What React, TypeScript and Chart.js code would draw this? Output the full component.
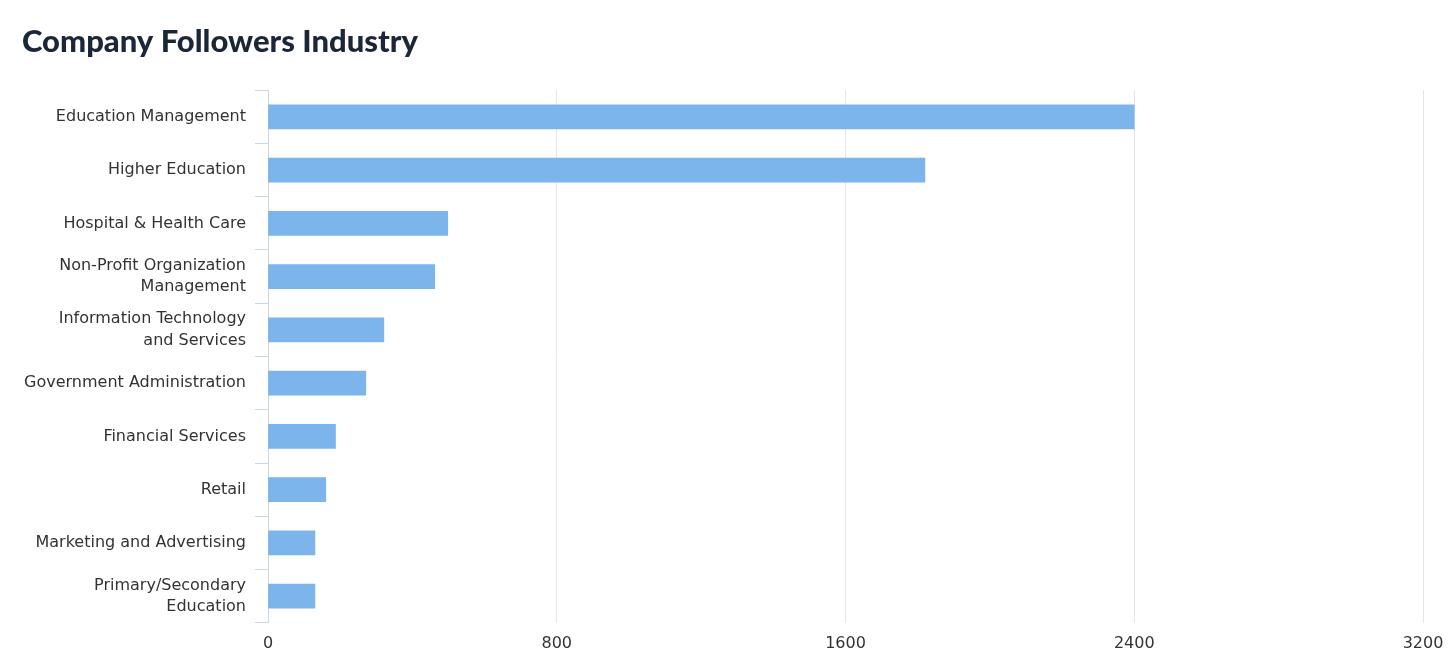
import React, { useEffect, useRef } from "react";
import { Chart, registerables } from "chart.js";

Chart.register(...registerables);

const industries: (string | string[])[] = [
  "Education Management",
  "Higher Education",
  "Hospital & Health Care",
  ["Non-Profit Organization", "Management"],
  ["Information Technology", "and Services"],
  "Government Administration",
  "Financial Services",
  "Retail",
  "Marketing and Advertising",
  ["Primary/Secondary", "Education"],
];

const followers: number[] = [2400, 1820, 498, 462, 321, 271, 187, 160, 130, 130];

const xTicks: number[] = [0, 800, 1600, 2400, 3200];

const TITLE = "Company Followers Industry";

export default function App() {
  const ref = useRef<HTMLCanvasElement | null>(null);

  useEffect(() => {
    document.body.style.margin = "0";
    const canvas = ref.current;
    if (!canvas) return;
    const chart = new Chart(canvas, {
      type: "bar",
      data: {
        labels: industries,
        datasets: [
          {
            label: "Followers",
            data: followers,
            backgroundColor: "#7cb5ec",
            borderWidth: 0,
            barThickness: 24,
          },
        ],
      },
      options: {
        indexAxis: "y",
        animation: false,
        responsive: false,
        maintainAspectRatio: false,
        layout: { padding: { left: 22, right: 25, top: 0, bottom: 5 } },
        plugins: {
          legend: { display: false },
          tooltip: { enabled: false },
          title: {
            display: true,
            text: TITLE,
            align: "start",
            color: "#1b2638",
            font: { family: "Lato", size: 31, weight: "900" },
            padding: { top: 23, bottom: 30 },
          },
        },
        scales: {
          x: {
            type: "linear",
            min: 0,
            max: 3200,
            afterBuildTicks: (scale: any) => {
              scale.ticks = xTicks.map((v) => ({ value: v }));
            },
            afterFit: (scale: any) => {
              scale.paddingLeft = 0;
              scale.paddingRight = 0;
            },
            grid: { color: "#e6e6e6", drawTicks: false, lineWidth: 1 },
            border: { display: false },
            ticks: {
              color: "#333333",
              padding: 11,
              font: { family: "DejaVu Sans", size: 16 },
              callback: (v: any) => String(v),
            },
          },
          y: {
            type: "category",
            offset: true,
            afterFit: (scale: any) => {
              scale.width = 246;
              scale.paddingTop = 0;
              scale.paddingBottom = 0;
            },
            grid: {
              offset: true,
              drawOnChartArea: false,
              drawTicks: true,
              tickLength: 13,
              color: "#ccd6eb",
            },
            border: { display: true, color: "#ccd6eb" },
            ticks: {
              color: "#333333",
              padding: 9,
              font: { family: "DejaVu Sans", size: 16, lineHeight: 1.32 },
            },
          },
        },
      },
    });
    return () => chart.destroy();
  }, []);

  return (
    <div style={{ width: 1448, height: 669 }}>
      <canvas ref={ref} width={1448} height={669} style={{ display: "block" }} />
    </div>
  );
}
